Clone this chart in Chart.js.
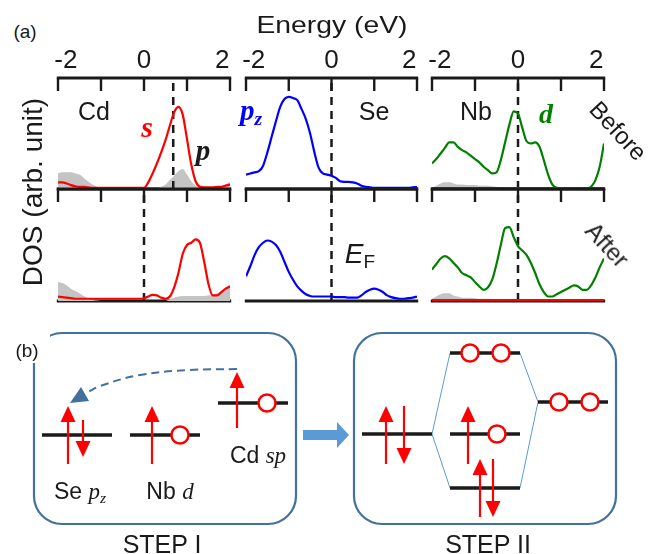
<!DOCTYPE html>
<html>
<head>
<meta charset="utf-8">
<script src="https://cdn.jsdelivr.net/npm/chart.js@4.4.1/dist/chart.umd.min.js"></script>
<style>
body{margin:0;background:#fff}
#fig{position:relative;width:658px;height:554px;overflow:hidden;background:#fff;font-family:"Liberation Sans",Arial,sans-serif;color:#1a1a1a}
canvas{position:absolute}
.t{position:absolute;white-space:nowrap;line-height:1;transform:translate(-50%,-50%);z-index:2}
.m{font-family:"Liberation Serif",serif;font-style:italic;font-weight:bold}
.mi{font-family:"Liberation Serif",serif;font-style:italic}
sub{font-size:0.68em;vertical-align:-0.28em;line-height:0}
</style>
</head>
<body>
<div id="fig">
  <div class="t" style="left:25px;top:31px;font-size:19px">(a)</div>
  <div class="t" style="left:332px;top:25px;font-size:24px;transform:translate(-50%,-50%) scaleX(1.18)">Energy (eV)</div>
  <div class="t" style="left:33px;top:192px;font-size:28px;transform:translate(-50%,-50%) rotate(-90deg)">DOS (arb. unit)</div>
  <div class="t" style="left:94px;top:111px;font-size:25px">Cd</div>
  <div class="t m" style="left:147px;top:127px;font-size:30px;color:#ff0000">s</div>
  <div class="t m" style="left:203px;top:150px;font-size:29px">p</div>
  <div class="t m" style="left:251px;top:110px;font-size:29px;color:#0000ff">p<sub>z</sub></div>
  <div class="t" style="left:374px;top:111px;font-size:25px">Se</div>
  <div class="t" style="left:476px;top:111px;font-size:25px">Nb</div>
  <div class="t m" style="left:546px;top:114px;font-size:28px;color:#008000">d</div>
  <div class="t" style="left:618px;top:131px;font-size:24px;transform:translate(-50%,-50%) rotate(47deg)">Before</div>
  <div class="t" style="left:607px;top:245px;font-size:24px;transform:translate(-50%,-50%) rotate(47deg)">After</div>
  <div class="t" style="left:360px;top:254px;font-size:28px"><i>E</i><sub>F</sub></div>

  <div class="t" style="left:0;top:326px;width:50px;height:37px;background:#fff;transform:none"></div>
  <div class="t" style="left:27px;top:350px;font-size:19px">(b)</div>
  <div class="t" style="left:80px;top:491px;font-size:23px">Se <span class="mi">p<sub>z</sub></span></div>
  <div class="t" style="left:170px;top:491px;font-size:23px">Nb <span class="mi">d</span></div>
  <div class="t" style="left:258px;top:455px;font-size:23px">Cd <span class="mi">sp</span></div>
  <div class="t" style="left:162px;top:544px;font-size:25px">STEP I</div>
  <div class="t" style="left:488px;top:544px;font-size:25px">STEP II</div>
</div>
<script>
Chart.defaults.font.family = '"Liberation Sans", Arial, sans-serif';

// energy grid (eV)
const energy = [-2,-1.9,-1.8,-1.7,-1.6,-1.5,-1.4,-1.3,-1.2,-1.1,-1,-0.9,-0.8,-0.7,-0.6,-0.5,-0.4,-0.3,-0.2,-0.1,0,0.1,0.2,0.3,0.4,0.5,0.6,0.7,0.8,0.9,1,1.1,1.2,1.3,1.4,1.5,1.6,1.7,1.8,1.9,2];
const tickValues = [-2,-1,0,1,2];
const tickLabels = [-2,0,2];

// Cd
const cdSBefore = [.06,.06,.05,.035,.025,.02,.02,.015,.01,.01,.01,.01,.01,.01,.01,.01,.01,.01,.01,.01,.01,.06,.14,.23,.33,.44,.57,.69,.74,.67,.45,.22,.07,.02,.015,.015,.015,.02,.02,.03,.04];
const cdPBefore = [.14,.15,.15,.15,.14,.13,.1,.07,.04,.02,.01,.005,0,0,0,0,0,0,0,0,0,0,0,.005,.02,.04,.08,.12,.16,.18,.13,.07,.03,.01,0,0,.005,.01,.02,.04,.06];
const cdSAfter = [.04,.035,.03,.025,.02,.02,.02,.02,.02,.02,.02,.02,.02,.02,.02,.02,.02,.02,.02,.02,.025,.04,.055,.05,.03,.02,.04,.12,.25,.42,.5,.52,.55,.52,.35,.15,.05,.05,.08,.11,.13];
const cdPAfter = [.17,.16,.14,.11,.09,.07,.045,.025,.01,.005,0,0,0,0,0,0,0,0,0,0,0,0,0,0,0,0,.015,.03,.04,.045,.045,.045,.045,.045,.045,.05,.055,.07,.09,.12,.15];
// Se
const sePzBefore = [.13,.14,.15,.16,.21,.33,.47,.61,.74,.81,.83,.82,.8,.72,.63,.5,.33,.19,.14,.13,.12,.1,.07,.065,.065,.06,.05,.03,.02,.015,.01,.01,.01,.01,.01,.01,.01,.01,.01,.015,.02];
const sePzAfter = [.22,.31,.41,.48,.52,.54,.53,.5,.44,.35,.26,.19,.13,.09,.06,.045,.04,.04,.04,.04,.04,.035,.035,.035,.03,.03,.03,.05,.08,.1,.11,.1,.08,.05,.035,.025,.02,.02,.025,.03,.04];
// Nb
const nbDBefore = [.23,.27,.32,.37,.42,.42,.38,.35,.33,.3,.27,.24,.2,.17,.14,.15,.26,.42,.58,.7,.68,.55,.43,.41,.42,.38,.26,.13,.04,.01,.005,.005,.005,.005,.005,.005,.005,.02,.08,.2,.41];
const nbGrayBefore = [.01,.03,.05,.06,.06,.05,.04,.04,.035,.035,.035,.03,.03,.03,.025,.02,.015,.01,.005,0,0,0,0,0,0,0,0,0,0,0,0,0,0,0,0,0,0,0,0,0,0];
const nbRedBefore = [.008,.008,.008,.008,.008,.008,.008,.008,.008,.008,.008,.008,.008,.008,.008,.008,.008,.008,.008,.008,.008,.008,.008,.008,.008,.008,.008,.008,.008,.008,.008,.008,.008,.008,.008,.008,.008,.008,.008,.008,.008];
const nbDAfter = [.28,.33,.38,.4,.38,.34,.3,.25,.23,.21,.17,.13,.1,.12,.19,.33,.5,.65,.66,.57,.49,.45,.41,.34,.25,.15,.08,.04,.04,.06,.08,.1,.12,.14,.13,.1,.1,.14,.21,.3,.38];
const nbGrayAfter = [.02,.04,.06,.07,.07,.05,.04,.03,.03,.03,.025,.02,.02,.02,.015,.015,.01,.01,.01,.005,0,0,0,0,0,0,0,0,0,0,0,0,0,0,0,0,0,0,0,0,0];
const nbRedAfter = [.008,.008,.008,.008,.008,.008,.008,.008,.008,.008,.008,.008,.008,.008,.008,.008,.008,.008,.008,.008,.008,.008,.008,.008,.008,.008,.008,.008,.008,.008,.008,.008,.008,.008,.008,.008,.008,.008,.008,.008,.008];
// Fermi level markers
const fermiBefore = [0.68, 0, 0];
const fermiAfter = [0, 0, 0];

// schematic (b), page pixel units
const levelsI = [[42,112,435],[130,200,435],[218,288,403]];
const levelsII = [[362,432,434],[450,520,353],[450,520,434],[450,520,488],[538,608,402]];
const spins = [[68,464,406],[83,420,457],[152,464,406],[237,428,372],
               [386,464,406],[404,406,464],[468,464,406],[480,517,459],[493,459,517]];
const holes = [[180,435],[267,403],[470,353],[501,353],[497,434],[559,402],[590,402]];
const links = [[432,434,450,353],[432,434,450,488],[520,353,538,402],[520,488,538,402]];
const boxes = [[34,296,333,524],[354,616,333,524]];
const transfer = [[237,369],[190,370],[140,375],[100,386],[88,392]];

const fig = document.getElementById('fig');
const cols = [[58,230],[246,417],[432,604]];
const rows = {before:[78,189], after:[189,301]};
const topAxisH = 40, pad = 14;

const framePlugin = {
  id: 'frame',
  beforeDatasetsDraw(chart, args, opts) {
    const {ctx, chartArea:{left, right, top, bottom}, scales:{x}} = chart;
    ctx.save();
    ctx.strokeStyle = '#1a1a1a';
    ctx.lineWidth = 3;
    ctx.beginPath();
    ctx.moveTo(left - 1.2, top); ctx.lineTo(right + 1.2, top);
    ctx.moveTo(left - 1.2, bottom); ctx.lineTo(right + 1.2, bottom);
    ctx.stroke();
    ctx.lineWidth = 2.4;
    tickValues.forEach(v => {
      const px = x.getPixelForValue(v);
      ctx.beginPath();
      ctx.moveTo(px, top); ctx.lineTo(px, top + 13);
      ctx.stroke();
    });
    ctx.restore();
  }
};

const pts = v => energy.map((e, i) => ({x: e, y: v[i]}));
const curve = (v, color) => ({data: pts(v), borderColor: color, borderWidth: 2.2, pointRadius: 0, fill: false, cubicInterpolationMode: 'monotone'});
const shade = v => ({data: pts(v), borderWidth: 0, borderColor: 'rgba(0,0,0,0)', backgroundColor: '#c4c4c4', fill: 'origin', pointRadius: 0, cubicInterpolationMode: 'monotone'});
const fermi = ef => ({data: [{x: ef, y: 0}, {x: ef, y: 1}], borderColor: '#1a1a1a', borderWidth: 2.5, borderDash: [8, 6], pointRadius: 0, fill: false});

function panel(col, rowName, datasets) {
  const isBefore = rowName === 'before';
  const [x0, x1] = cols[col];
  const [y0, y1] = rows[rowName];
  const top = isBefore ? y0 - topAxisH : y0 - pad;
  const c = document.createElement('canvas');
  c.width = x1 - x0 + 2 * pad;
  c.height = y1 - top + pad;
  c.style.left = (x0 - pad) + 'px';
  c.style.top = top + 'px';
  fig.appendChild(c);
  const scales = {
    x: {type: 'linear', min: -2, max: 2, display: false},
    y: {type: 'linear', min: 0, max: 1, display: false}
  };
  if (isBefore) {
    scales.xt = {
      type: 'linear', position: 'top', min: -2.2, max: 2.2,
      grid: {display: false, drawTicks: false}, border: {display: false},
      ticks: {font: {size: 26}, color: '#1a1a1a', padding: 2, maxRotation: 0, autoSkip: false},
      afterBuildTicks: s => { s.ticks = tickLabels.map(v => ({value: v})); },
      afterFit: s => { s.height = topAxisH; }
    };
  }
  new Chart(c, {
    type: 'line',
    data: {datasets},
    options: {
      responsive: false, animation: false,
      layout: {autoPadding: false, padding: {left: pad, right: pad, bottom: pad, top: isBefore ? 0 : pad}},
      scales,
      plugins: {legend: {display: false}, tooltip: {enabled: false}}
    },
    plugins: [framePlugin]
  });
}

panel(0, 'before', [curve(cdSBefore, '#ff0000'), fermi(fermiBefore[0]), shade(cdPBefore)]);
panel(1, 'before', [curve(sePzBefore, '#0000ff'), fermi(fermiBefore[1])]);
panel(2, 'before', [curve(nbDBefore, '#008000'), curve(nbRedBefore, '#ff0000'), fermi(fermiBefore[2]), shade(nbGrayBefore)]);
panel(0, 'after', [curve(cdSAfter, '#ff0000'), fermi(fermiAfter[0]), shade(cdPAfter)]);
panel(1, 'after', [curve(sePzAfter, '#0000ff'), fermi(fermiAfter[1])]);
panel(2, 'after', [curve(nbDAfter, '#008000'), curve(nbRedAfter, '#ff0000'), fermi(fermiAfter[2]), shade(nbGrayAfter)]);

// ---- panel (b): energy level schematic ----
const boxPlugin = {
  id: 'boxes',
  beforeDatasetsDraw(chart) {
    const {ctx, scales:{x, y}} = chart;
    ctx.save();
    ctx.strokeStyle = '#41719c';
    ctx.lineWidth = 2.2;
    boxes.forEach(([a, b, c, d]) => {
      const L = x.getPixelForValue(a), R = x.getPixelForValue(b);
      const T = y.getPixelForValue(c), B = y.getPixelForValue(d);
      ctx.beginPath();
      ctx.roundRect(L, T, R - L, B - T, 28);
      ctx.stroke();
    });
    ctx.restore();
  }
};

const ds = [];
holes.forEach(([x, y]) => ds.push({data: [{x, y}], showLine: false, pointRadius: 8.5, pointBorderWidth: 2.5,
  pointBorderColor: '#ff0000', pointBackgroundColor: '#ffffff', order: 0}));
spins.forEach(([x, from, to]) => {
  const dir = from > to ? 1 : -1;
  ds.push({data: [{x, y: from}, {x, y: to + dir * 10}], borderColor: '#ff0000', borderWidth: 2.2, pointRadius: 0, order: 1});
  ds.push({data: [{x, y: to}, {x: x - 7.5, y: to + dir * 16}, {x: x + 7.5, y: to + dir * 16}, {x, y: to}],
    borderWidth: 0, borderColor: 'rgba(0,0,0,0)', backgroundColor: '#ff0000', fill: 'shape', pointRadius: 0, order: 1});
});
[...levelsI, ...levelsII].forEach(([a, b, y]) => ds.push({data: [{x: a, y}, {x: b, y}],
  borderColor: '#1a1a1a', borderWidth: 3.5, pointRadius: 0, order: 2}));
links.forEach(([a, b, c, d]) => ds.push({data: [{x: a, y: b}, {x: c, y: d}], borderColor: '#5b9bd5', borderWidth: 1, pointRadius: 0, order: 3}));
// electron transfer (dashed) and step arrow
ds.push({data: transfer.map(([x, y]) => ({x, y})), borderColor: '#41719c', borderWidth: 2, borderDash: [8, 5], tension: 0.4, pointRadius: 0, order: 3});
ds.push({data: [{x: 70, y: 403}, {x: 81, y: 387}, {x: 89, y: 401}, {x: 70, y: 403}], borderWidth: 0, borderColor: 'rgba(0,0,0,0)',
  backgroundColor: '#41719c', fill: 'shape', pointRadius: 0, order: 3});
ds.push({data: [{x: 303, y: 435}, {x: 338, y: 435}], borderColor: '#5b9bd5', borderWidth: 10, pointRadius: 0, order: 3});
ds.push({data: [{x: 337, y: 422}, {x: 349, y: 435}, {x: 337, y: 448}, {x: 337, y: 422}], borderWidth: 0, borderColor: 'rgba(0,0,0,0)',
  backgroundColor: '#5b9bd5', fill: 'shape', pointRadius: 0, order: 3});

const cb = document.createElement('canvas');
cb.width = 658; cb.height = 234;
cb.style.left = '0px'; cb.style.top = '320px';
fig.appendChild(cb);
new Chart(cb, {
  type: 'line',
  data: {datasets: ds},
  options: {
    responsive: false, animation: false,
    layout: {autoPadding: false, padding: 0},
    scales: {
      x: {type: 'linear', min: 0, max: 658, display: false},
      y: {type: 'linear', min: 320, max: 554, reverse: true, display: false}
    },
    plugins: {legend: {display: false}, tooltip: {enabled: false}}
  },
  plugins: [boxPlugin]
});
</script>
</body>
</html>
